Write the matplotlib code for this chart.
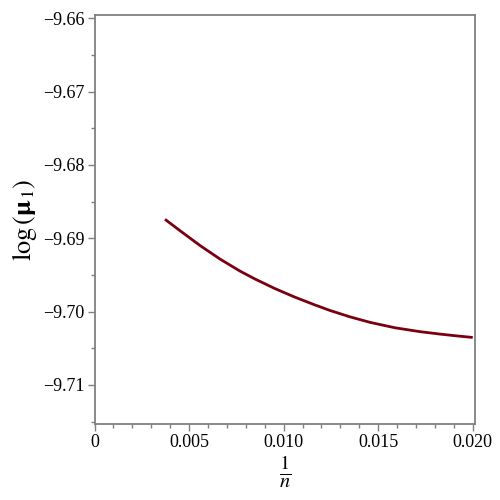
import matplotlib
matplotlib.use('Agg')
import matplotlib.pyplot as plt
from matplotlib.ticker import MultipleLocator

plt.rcParams['font.family'] = ['Liberation Serif', 'DejaVu Serif']
plt.rcParams['mathtext.fontset'] = 'stix'

# curve values
inv_n = [0.003728, 0.004521, 0.005579, 0.006637, 0.007694, 0.008488, 0.009545,
         0.010603, 0.011660, 0.012454, 0.013511, 0.014569, 0.015891, 0.017213,
         0.018271, 0.019170, 0.020000]
log_mu1 = [-9.68741, -9.68896, -9.69098, -9.69283, -9.69447, -9.69555, -9.69686,
           -9.69803, -9.69909, -9.69984, -9.70071, -9.70146, -9.70220, -9.70273,
           -9.70306, -9.70331, -9.70352]

xticks = [0, 0.005, 0.010, 0.015, 0.020]
xticklabels = ['0', '0.005', '0.010', '0.015', '0.020']
yticks = [-9.66, -9.67, -9.68, -9.69, -9.70, -9.71]
yticklabels = ['\u22129.66', '\u22129.67', '\u22129.68', '\u22129.69', '\u22129.70', '\u22129.71']

fig = plt.figure(figsize=(5, 5), dpi=100)
ax = fig.add_axes([0.189, 0.152, 0.761, 0.818])

ax.plot(inv_n, log_mu1, color='#7a0010', lw=2.0, solid_capstyle='butt',
        solid_joinstyle='round')

ax.set_xlim(0, 0.02012)
ax.set_ylim(-9.71532, -9.65955)

ax.set_xticks(xticks)
ax.set_xticklabels(xticklabels)
ax.set_yticks(yticks)
ax.set_yticklabels(yticklabels)
ax.xaxis.set_minor_locator(MultipleLocator(0.001))
ax.yaxis.set_minor_locator(MultipleLocator(0.005))

for s in ax.spines.values():
    s.set_color('#808080')
    s.set_linewidth(1.3)

ax.tick_params(which='major', direction='out', length=5, width=1, color='#808080',
               labelsize=13, pad=2)
ax.tick_params(which='minor', direction='out', length=3, width=1, color='#808080')

ax.set_xlabel(r'$\frac{1}{n}$', fontsize=21, labelpad=2)
ax.set_ylabel(r'$\log\left(\mathbf{\mu}_1\right)$', fontsize=19, labelpad=3)

fig.savefig('out.png', dpi=100, facecolor='white')
